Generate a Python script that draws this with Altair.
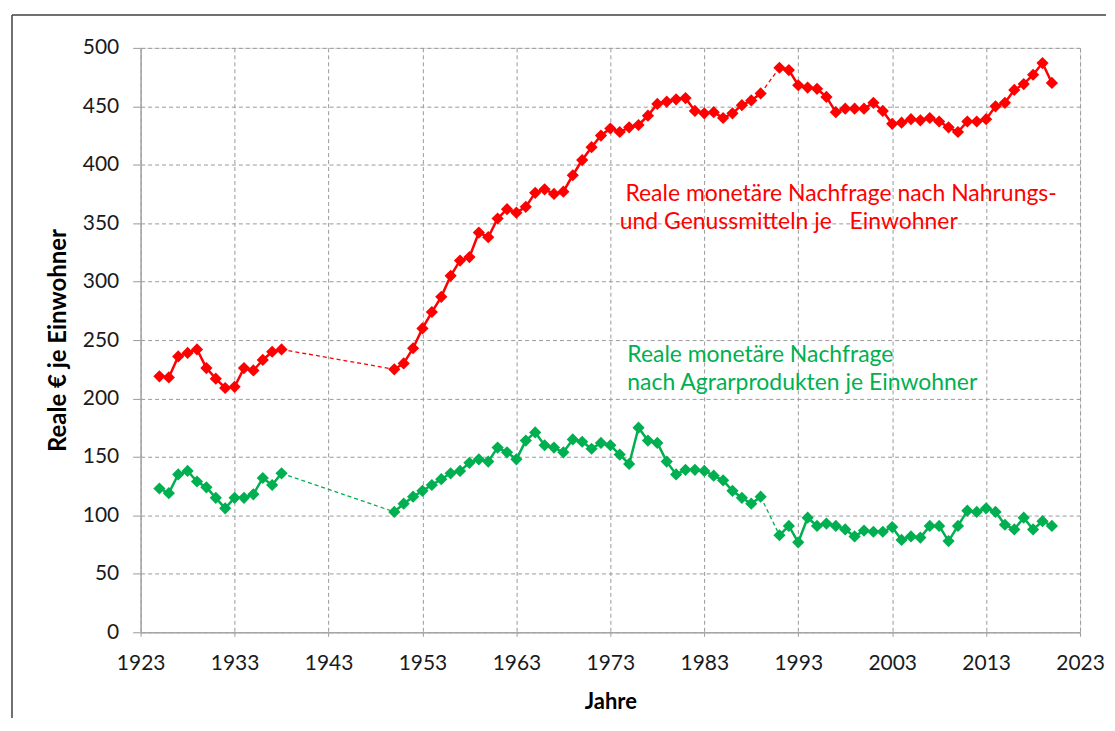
import altair as alt
import pandas as pd

# ---- data ----
years_a = list(range(1925, 1939))   # 1925-1938
years_b = list(range(1950, 1990))   # 1950-1989
years_c = list(range(1991, 2021))   # 1991-2020

food_a = [219, 218, 236, 239, 242, 226, 217, 209, 210, 226, 224, 233, 240, 242]
food_b = [225, 230, 243, 260, 274, 287, 305, 318, 321, 342,
          338, 354, 362, 359, 364, 376, 379, 375, 377, 391,
          404, 415, 425, 431, 428, 432, 434, 442, 452, 454,
          456, 457, 446, 444, 445, 440, 444, 451, 455, 461]
food_c = [483, 481, 468, 466, 465, 458, 445, 448, 448, 448,
          453, 446, 435, 436, 439, 438, 440, 437, 432, 428,
          437, 437, 439, 450, 453, 464, 469, 477, 487, 470]

agri_a = [123, 119, 135, 138, 129, 124, 115, 106, 115, 115, 118, 132, 126, 136]
agri_b = [103, 110, 116, 121, 126, 131, 136, 138, 145, 148,
          146, 158, 154, 148, 164, 171, 160, 158, 154, 165,
          163, 157, 162, 160, 152, 144, 175, 164, 162, 146,
          135, 139, 139, 138, 134, 130, 121, 115, 110, 116]
agri_c = [83, 91, 77, 98, 91, 93, 91, 88, 82, 87,
          86, 86, 90, 79, 82, 81, 91, 91, 78, 91,
          104, 103, 106, 103, 92, 88, 98, 88, 95, 91]

series_names = ["Nahrung", "Agrar"]
series_colors = ["#ff0000", "#00b050"]

x_ticks = [1923, 1933, 1943, 1953, 1963, 1973, 1983, 1993, 2003, 2013, 2023]
y_ticks = [0, 50, 100, 150, 200, 250, 300, 350, 400, 450, 500]

label_food_1 = "Reale monetäre Nachfrage nach Nahrungs-"
label_food_2 = "und Genussmitteln je\u00a0\u00a0 Einwohner"
label_agri_1 = "Reale monetäre Nachfrage"
label_agri_2 = "nach Agrarprodukten je Einwohner"

# ---- build tables ----
rows = []
gaps = []
for name, segs in [("Nahrung", [food_a, food_b, food_c]), ("Agrar", [agri_a, agri_b, agri_c])]:
    ys = [years_a, years_b, years_c]
    for i, (yr, vals) in enumerate(zip(ys, segs)):
        for y, v in zip(yr, vals):
            rows.append({"series": name, "seg": f"{name}{i}", "year": y, "value": v})
    for i in range(2):
        gid = f"{name}gap{i}"
        gaps.append({"series": name, "gap": gid, "year": ys[i][-1], "value": segs[i][-1]})
        gaps.append({"series": name, "gap": gid, "year": ys[i + 1][0], "value": segs[i + 1][0]})

df = pd.DataFrame(rows)
gdf = pd.DataFrame(gaps)

FONT = "Lato"
color_scale = alt.Scale(domain=series_names, range=series_colors)

x_enc = alt.X("year:Q", scale=alt.Scale(domain=[1923, 2023], nice=False, zero=False),
              axis=alt.Axis(values=x_ticks, format="d", title="Jahre",
                            grid=True, gridDash=[4, 3], gridColor="#9a9a9a",
                            domainColor="#a6a6a6", domainWidth=1.5,
                            tickColor="#9a9a9a", tickSize=7, tickDash=[4, 3],
                            labelFlush=False, labelOverlap=False,
                            labelFontSize=21, labelColor="#1a1a1a", labelPadding=13,
                            labelFont=FONT, titleFont=FONT, titleFontSize=22,
                            titleFontWeight="bold", titleColor="#000000", titlePadding=18))
y_enc = alt.Y("value:Q", scale=alt.Scale(domain=[0, 500], nice=False),
              axis=alt.Axis(values=y_ticks, title="Reale € je Einwohner",
                            grid=True, gridDash=[4, 3], gridColor="#9a9a9a",
                            domainColor="#a6a6a6", domainWidth=1.5,
                            tickColor="#9a9a9a", tickSize=8,
                            labelFlush=False, labelOverlap=False,
                            labelFontSize=21, labelColor="#1a1a1a", labelPadding=14,
                            labelFont=FONT, titleFont=FONT, titleFontSize=24,
                            titleFontWeight="bold", titleColor="#000000", titlePadding=12))

base = alt.Chart(df)

lines = base.mark_line(strokeWidth=2.5).encode(
    x=x_enc, y=y_enc,
    color=alt.Color("series:N", scale=color_scale, legend=None),
    detail="seg:N",
)
points = base.mark_point(shape="diamond", filled=True, size=150, opacity=1).encode(
    x="year:Q", y="value:Q",
    color=alt.Color("series:N", scale=color_scale, legend=None),
)
gap_lines = alt.Chart(gdf).mark_line(strokeWidth=1.3, strokeDash=[4, 3]).encode(
    x="year:Q", y="value:Q",
    color=alt.Color("series:N", scale=color_scale, legend=None),
    detail="gap:N",
)

def label(text, xv, yv, col):
    return alt.Chart(alt.Data(values=[{}])).mark_text(
        align="left", baseline="middle", font=FONT, fontSize=23, color=col
    ).encode(x=alt.datum(xv), y=alt.datum(yv), text=alt.value(text))

texts = (label(label_food_1, 1974.6, 375, "#ff0000")
         + label(label_food_2, 1974.0, 351, "#ff0000")
         + label(label_agri_1, 1974.8, 237, "#00b050")
         + label(label_agri_2, 1974.8, 213, "#00b050"))

frame_top = alt.Chart(alt.Data(values=[{}])).mark_rule(color="#404040", strokeWidth=1.5).encode(
    x=alt.value(-129), x2=alt.value(968), y=alt.value(-33))
frame_left = alt.Chart(alt.Data(values=[{}])).mark_rule(color="#404040", strokeWidth=1.5).encode(
    x=alt.value(-129), y=alt.value(-33), y2=alt.value(672))

chart = alt.layer(frame_top, frame_left, lines, gap_lines, points, texts).properties(
    width=942, height=586,
    padding={"left": 3, "top": 5, "right": 0, "bottom": 0},
).configure_view(stroke=None).configure(background="#ffffff")

chart.save("out.html", embed_options={"renderer": "svg", "actions": False})
